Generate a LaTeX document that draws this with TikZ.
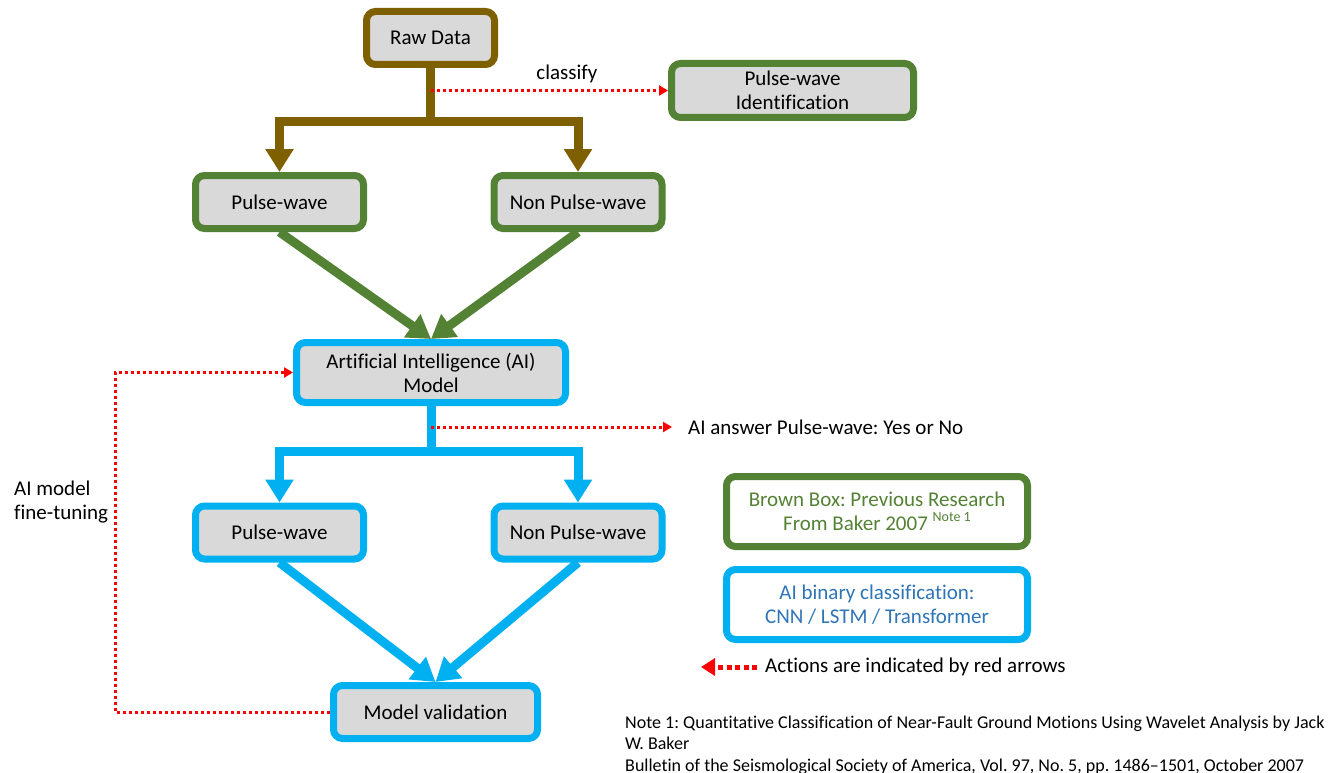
\documentclass[tikz,border=0pt]{standalone}
\usepackage{fontspec}
\setmainfont{Carlito}[Ligatures=NoCommon]
\usetikzlibrary{arrows.meta}
\definecolor{cbrown}{HTML}{7F6000}
\definecolor{cgreen}{HTML}{548235}
\definecolor{cblue}{HTML}{00B0F0}
\definecolor{cgray}{HTML}{D9D9D9}
\definecolor{tblue}{HTML}{2E75B6}
\definecolor{cred}{HTML}{FF0000}
\frenchspacing
\begin{document}
\begin{tikzpicture}[x=1pt,y=-1pt,
  box/.style={draw, line width=7pt, rounded corners=9pt, fill=cgray, inner sep=0pt, align=center,
    font=\fontsize{21}{24}\selectfont},
  bigline/.style={line width=9pt, line join=miter},
  bigarrow/.style={bigline, -{Triangle[width=27pt,length=23pt]}},
  reddot/.style={cred, line width=3pt, dash pattern=on 3pt off 3pt, -{Triangle[width=10pt,length=9pt]}},
  lbl/.style={font=\fontsize{21}{24}\selectfont, inner sep=0pt}
]
\useasboundingbox (0,0) rectangle (1343,773);
% boxes
\node[box, draw=cbrown, minimum width=128pt, minimum height=53pt] (raw) at (430.5,38) {Raw Data};
\node[box, draw=cgreen, minimum width=242pt, minimum height=54pt] (pwid) at (792.5,90.5) {Pulse-wave\\Identification};
\node[box, draw=cgreen, minimum width=168pt, minimum height=53pt] (pw1) at (279.5,202) {Pulse-wave};
\node[box, draw=cgreen, minimum width=168pt, minimum height=53pt] (npw1) at (578,202) {Non Pulse-wave};
\node[box, draw=cblue, minimum width=269pt, minimum height=60pt] (ai) at (431,372.5) {Artificial Intelligence (AI)\\Model};
\node[box, draw=cblue, minimum width=168pt, minimum height=53pt] (pw2) at (279.5,532.5) {Pulse-wave};
\node[box, draw=cblue, minimum width=168pt, minimum height=53pt] (npw2) at (578,532.5) {Non Pulse-wave};
\node[box, draw=cblue, minimum width=204pt, minimum height=53pt] (mv) at (435.5,712) {Model validation};
\node[box, draw=cgreen, fill=white, text=cgreen, minimum width=301pt, minimum height=70pt] (leg1) at (877,511.5)
  {Brown Box: Previous Research\\From Baker 2007 \raisebox{0.45em}{\fontsize{14}{14}\selectfont Note 1}};
\node[box, draw=cblue, fill=white, text=tblue, minimum width=301pt, minimum height=70pt] (leg2) at (877,604.5)
  {AI binary classification:\\CNN / LSTM / Transformer};
% brown tree
\coordinate (bj) at (430.5,121.5);
\draw[bigline, cbrown] (raw.south) -- (bj);
\draw[bigarrow, cbrown] (bj) -| (pw1.north);
\draw[bigarrow, cbrown] (bj) -| (npw1.north);
% classify
\coordinate (cj) at (430.5,90.5);
\draw[reddot] (cj) -- (pwid.west);
\node[lbl] (cls) at (567,74) {classify};
% green arrows
\draw[bigarrow, cgreen] (pw1.south) -- (ai.north);
\draw[bigarrow, cgreen] (npw1.south) -- (ai.north);
% blue tree
\coordinate (bj2) at (431,451);
\draw[bigline, cblue] (ai.south) -- (bj2);
\draw[bigarrow, cblue] (bj2) -| (pw2.north);
\draw[bigarrow, cblue] (bj2) -| (npw2.north);
% AI answer
\coordinate (aj) at (431,427);
\coordinate (ae) at (672,427);
\draw[reddot] (aj) -- (ae);
\node[lbl, anchor=west] (ans) at (688,427) {AI answer Pulse-wave: Yes or No};
% blue diagonals
\draw[bigarrow, cblue] (pw2.south) -- (mv.north);
\draw[bigarrow, cblue] (npw2.south) -- (mv.north);
% fine-tuning loop
\coordinate (lb) at (115,712);
\coordinate (lt) at (115,372.5);
\draw[reddot] (mv.west) -- (lb) -- (lt) -- (ai.west);
\node[lbl, anchor=west, align=left] (ft) at (14,502) {AI model\\fine-tuning};
% legend arrow
\coordinate (la1) at (757,667);
\coordinate (la2) at (701,667);
\draw[cred, line width=5pt, dash pattern=on 5pt off 3.5pt, -{Triangle[width=17pt,length=14pt]}] (la1) -- (la2);
\node[lbl, anchor=west] (legtxt) at (765,667) {Actions are indicated by red arrows};
% note
\node[anchor=base west, inner sep=0pt, align=left, font=\fontsize{18}{21.5}\selectfont] (note) at (625,771)
  {Note 1: Quantitative Classification of Near-Fault Ground Motions Using Wavelet Analysis by Jack\\
   W. Baker\\
   Bulletin of the Seismological Society of America, Vol. 97, No. 5, pp. 1486–1501, October 2007};
\end{tikzpicture}
\end{document}
